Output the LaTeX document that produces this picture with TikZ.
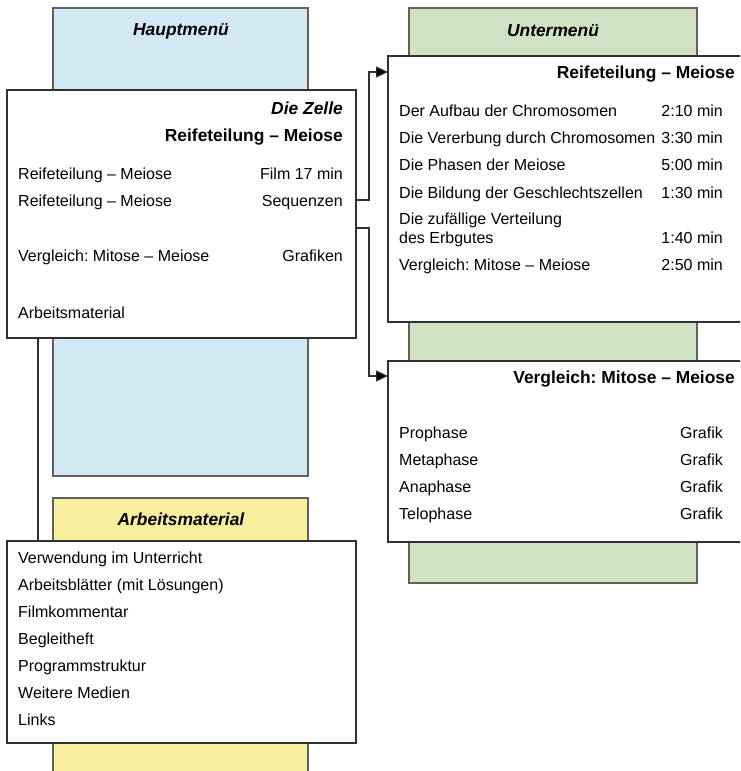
\documentclass[tikz,border=0pt]{standalone}
\usepackage{fontspec}
\setmainfont{Liberation Sans}
\usetikzlibrary{shapes,arrows,arrows.meta}
\usepackage{xcolor}
\frenchspacing
\definecolor{hauptblue}{HTML}{D2E8F2}
\definecolor{untergreen}{HTML}{CFE2C4}
\definecolor{arbyellow}{HTML}{F7EF9C}
\definecolor{menugray}{HTML}{606060}
\definecolor{panelgray}{HTML}{303030}
\tikzstyle{menu} = [rectangle, draw=menugray, line width=1.2pt,
    anchor=north west, inner sep=0pt, outer sep=0pt]
\tikzstyle{panel} = [rectangle, draw=panelgray, fill=white, line width=1.2pt,
    anchor=north west, inner sep=0pt, outer sep=0pt]
\tikzstyle{title} = [font=\bfseries\itshape\fontsize{17.4}{20}\selectfont,
    anchor=base, inner sep=0pt]
\tikzstyle{head} = [font=\bfseries\fontsize{17.4}{20}\selectfont,
    anchor=base east, inner sep=0pt]
\tikzstyle{entry} = [font=\fontsize{16}{19}\selectfont, anchor=base west, inner sep=0pt]
\tikzstyle{value} = [font=\fontsize{16}{19}\selectfont, anchor=base east, inner sep=0pt]
\tikzstyle{arrow} = [line width=1.2pt, draw=panelgray,
    -{Triangle[length=12pt,width=11pt,fill=black]}]
\tikzstyle{link} = [line width=1.2pt, draw=panelgray]

\begin{document}
\begin{tikzpicture}[x=1pt, y=-1pt]
    \clip (0,0) rectangle (740,771);
    % Place menus
    \node [menu, fill=hauptblue, minimum width=255pt, minimum height=468pt] (haupt) at (53,8) {};
    \node [menu, fill=untergreen, minimum width=288pt, minimum height=575pt] (unter) at (409,8) {};
    \node [menu, fill=arbyellow, minimum width=255pt, minimum height=300pt] (arbeit) at (53,498) {};
    \node [title] (hauptname) at (181,35) {Hauptmenü};
    \node [title] (untername) at (553,36) {Untermenü};
    \node [title] (arbeitname) at (181,525) {Arbeitsmaterial};
    % Place panels
    \node [panel, minimum width=349pt, minimum height=248pt] (zelle) at (7,90) {};
    \node [panel, minimum width=370pt, minimum height=266pt] (meiose) at (388,56) {};
    \node [panel, minimum width=370pt, minimum height=181pt] (vergleich) at (388,361) {};
    \node [panel, minimum width=349pt, minimum height=202pt] (material) at (7,541) {};
    % Die Zelle
    \node [head] (zname) at (343,114) {\itshape Die Zelle};
    \node [head] (zhead) at (343,141) {Reifeteilung -- Meiose};
    \node [entry] (zfilm) at (18,179) {Reifeteilung -- Meiose};
    \node [value] (zfilmv) at (343,179) {Film 17 min};
    \node [entry] (zseq) at (18,206) {Reifeteilung -- Meiose};
    \node [value] (zseqv) at (343,206) {Sequenzen};
    \node [entry] (zvgl) at (18,261) {Vergleich: Mitose -- Meiose};
    \node [value] (zvglv) at (343,261) {Grafiken};
    \node [entry] (zarb) at (18,318) {Arbeitsmaterial};
    % Reifeteilung - Meiose
    \node [head] (mhead) at (735,78) {Reifeteilung -- Meiose};
    \node [entry] (m1) at (399,116) {Der Aufbau der Chromosomen};
    \node [value] (m1v) at (723,116) {2:10 min};
    \node [entry] (m2) at (399,143) {Die Vererbung durch Chromosomen};
    \node [value] (m2v) at (723,143) {3:30 min};
    \node [entry] (m3) at (399,170) {Die Phasen der Meiose};
    \node [value] (m3v) at (723,170) {5:00 min};
    \node [entry] (m4) at (399,198) {Die Bildung der Geschlechtszellen};
    \node [value] (m4v) at (723,198) {1:30 min};
    \node [entry] (m5) at (399,224) {Die zufällige Verteilung};
    \node [entry] (m5b) at (399,243) {des Erbgutes};
    \node [value] (m5v) at (723,243) {1:40 min};
    \node [entry] (m6) at (399,270) {Vergleich: Mitose -- Meiose};
    \node [value] (m6v) at (723,270) {2:50 min};
    % Vergleich: Mitose - Meiose
    \node [head] (vhead) at (735,383) {Vergleich: Mitose -- Meiose};
    \node [entry] (v1) at (399,438) {Prophase};
    \node [value] (v1v) at (723,438) {Grafik};
    \node [entry] (v2) at (399,465) {Metaphase};
    \node [value] (v2v) at (723,465) {Grafik};
    \node [entry] (v3) at (399,492) {Anaphase};
    \node [value] (v3v) at (723,492) {Grafik};
    \node [entry] (v4) at (399,519) {Telophase};
    \node [value] (v4v) at (723,519) {Grafik};
    % Arbeitsmaterial
    \node [entry] (a1) at (18,563) {Verwendung im Unterricht};
    \node [entry] (a2) at (18,590) {Arbeitsblätter (mit Lösungen)};
    \node [entry] (a3) at (18,617) {Filmkommentar};
    \node [entry] (a4) at (18,644) {Begleitheft};
    \node [entry] (a5) at (18,671) {Programmstruktur};
    \node [entry] (a6) at (18,698) {Weitere Medien};
    \node [entry] (a7) at (18,725) {Links};
    % Draw edges
    \draw [arrow] ([yshift=14pt]zelle.east) -- ++(13,0) |- ([yshift=-16pt]meiose.north west);
    \draw [arrow] ([yshift=-14pt]zelle.east) -- ++(13,0) |- ([yshift=-15pt]vergleich.north west);
    \draw [link] ([xshift=31pt]zelle.south west) -- ([xshift=31pt]material.north west);
\end{tikzpicture}
\end{document}
